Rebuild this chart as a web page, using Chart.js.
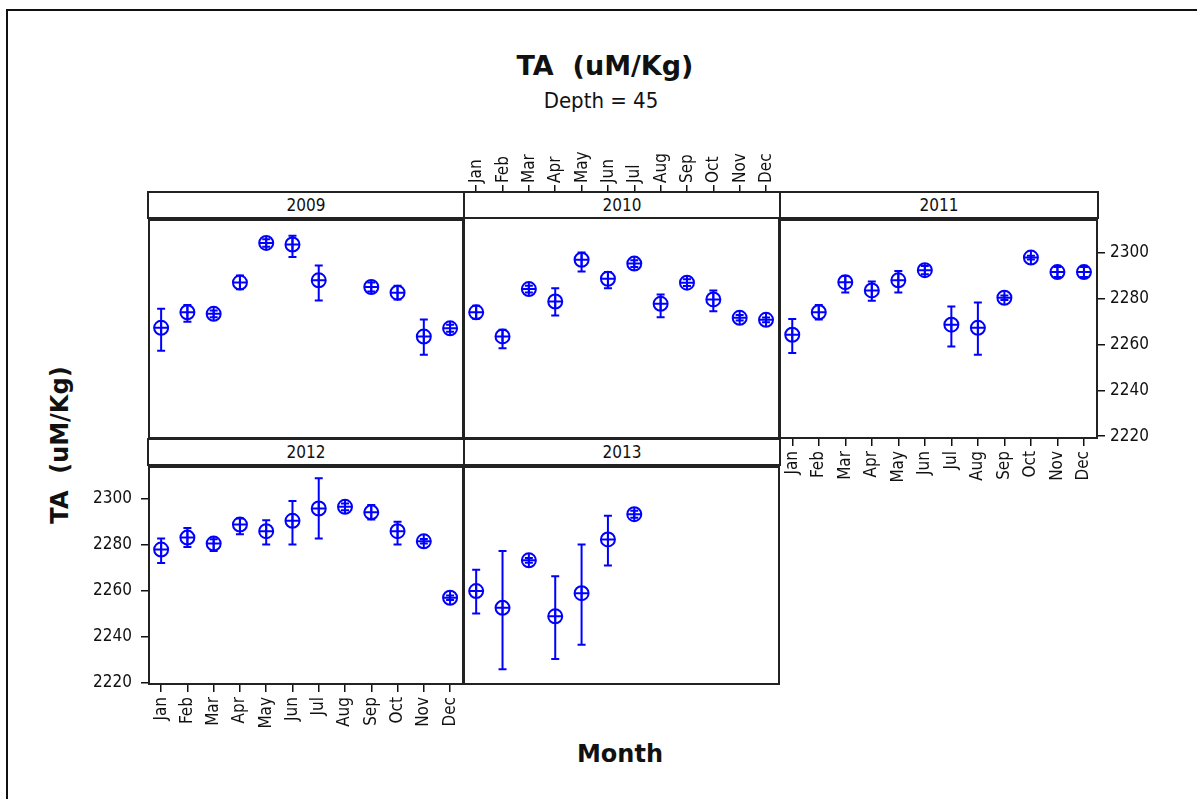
<!DOCTYPE html>
<html>
<head>
<meta charset="utf-8">
<script src="https://cdn.jsdelivr.net/npm/chart.js@4.4.0/dist/chart.umd.min.js"></script>
<style>
  body { margin:0; background:#fff; width:1197px; height:799px; overflow:hidden; position:relative;
         font-family:"DejaVu Sans Condensed","DejaVu Sans",sans-serif; color:#111; }
  .frame { position:absolute; left:6px; top:9px; width:1210px; height:810px; border:2px solid #111; box-sizing:border-box; }
  canvas { position:absolute; }
  .strip { position:absolute; height:28px; border:2px solid #222; box-sizing:border-box; background:#fff;
           text-align:center; font-size:17px; line-height:24px; z-index:5; }
  .txt { position:absolute; text-align:center; white-space:pre; }
</style>
</head>
<body>
<div class="frame"></div>
<div class="txt" style="left:405px;width:400px;top:50px;font-family:'DejaVu Sans';font-weight:bold;font-size:27px;">TA  (uM/Kg)</div>
<div class="txt" style="left:401px;width:400px;top:88px;font-size:22px;">Depth = 45</div>
<div class="txt" style="left:520px;width:200px;top:740px;font-family:'DejaVu Sans';font-weight:bold;font-size:24px;">Month</div>
<div class="txt" style="left:-40px;width:200px;top:431px;font-family:'DejaVu Sans';font-weight:bold;font-size:24px;transform:rotate(-90deg);">TA  (uM/Kg)</div>

<div class="strip" style="left:147px;top:191px;width:318px;">2009</div>
<div class="strip" style="left:463px;top:191px;width:318px;">2010</div>
<div class="strip" style="left:779px;top:191px;width:320px;">2011</div>
<div class="strip" style="left:147px;top:438px;width:318px;">2012</div>
<div class="strip" style="left:463px;top:438px;width:318px;">2013</div>

<canvas id="c2009"></canvas>
<canvas id="c2010"></canvas>
<canvas id="c2011"></canvas>
<canvas id="c2012"></canvas>
<canvas id="c2013"></canvas>

<script>
// month axis labels and y ticks
const months = ['Jan','Feb','Mar','Apr','May','Jun','Jul','Aug','Sep','Oct','Nov','Dec'];
const yTicks = [2220, 2240, 2260, 2280, 2300];

// mean and interval ends per year
const mean2009 = [2267.2, 2274.0, 2273.3, 2286.9, 2304.2, 2303.5, 2287.9, null, 2285.0, 2282.5, 2263.4, 2267.0];
const low2009  = [2257.2, 2269.9, 2271.8, 2284.0, 2302.5, 2298.1, 2279.1, null, 2283.0, 2279.5, 2255.5, 2265.5];
const high2009 = [2275.5, 2277.2, 2274.8, 2290.0, 2305.8, 2307.3, 2294.4, null, 2287.0, 2285.5, 2270.8, 2268.5];

const mean2010 = [2274.0, 2263.5, 2284.1, 2278.7, 2296.9, 2288.6, 2295.2, 2277.7, 2286.9, 2279.6, 2271.6, 2270.7];
const low2010  = [2271.2, 2258.3, 2282.6, 2272.6, 2291.8, 2284.5, 2293.7, 2271.8, 2285.4, 2274.4, 2270.4, 2269.7];
const high2010 = [2276.8, 2266.4, 2285.6, 2284.5, 2300.0, 2291.5, 2296.7, 2281.8, 2288.4, 2283.5, 2272.8, 2271.7];

const mean2011 = [2264.2, 2274.0, 2287.1, 2283.5, 2287.9, 2292.3, 2268.6, 2267.2, 2280.3, 2297.8, 2291.5, 2291.5];
const low2011  = [2256.2, 2270.8, 2282.6, 2279.0, 2282.6, 2290.5, 2259.1, 2255.5, 2279.3, 2297.0, 2289.3, 2289.3];
const high2011 = [2271.1, 2277.2, 2289.8, 2287.4, 2292.0, 2294.1, 2276.5, 2278.2, 2281.3, 2298.6, 2293.7, 2293.7];

const mean2012 = [2278.0, 2283.2, 2280.6, 2288.9, 2286.0, 2290.5, 2295.9, 2296.6, 2294.2, 2286.0, 2281.6, 2257.0];
const low2012  = [2272.1, 2279.1, 2277.4, 2284.7, 2280.2, 2280.2, 2282.8, 2295.1, 2291.1, 2280.2, 2280.6, 2256.0];
const high2012 = [2282.8, 2287.4, 2282.5, 2291.5, 2290.8, 2299.1, 2309.1, 2298.1, 2297.4, 2290.1, 2282.6, 2258.0];

const mean2013 = [2259.9, 2252.6, 2273.3, 2248.9, 2259.0, 2282.4, 2293.4, null, null, null, null, null];
const low2013  = [2250.2, 2225.9, 2272.3, 2230.3, 2236.5, 2271.1, 2291.9, null, null, null, null, null];
const high2013 = [2269.2, 2277.4, 2274.3, 2266.4, 2280.2, 2292.7, 2294.9, null, null, null, null, null];

Chart.defaults.font.family = '"DejaVu Sans Condensed", "DejaVu Sans", sans-serif';
Chart.defaults.font.size = 17;
Chart.defaults.color = '#111';

const blue = '#0000ff';

// 오차 막대 + 패널 테두리
const intervalPlugin = {
    id: 'intervals',
    afterDatasetsDraw(chart, args, opts) {
        const ctx = chart.ctx;
        const xs = chart.scales.x, ys = chart.scales.y;
        ctx.save();
        ctx.strokeStyle = blue;
        ctx.lineWidth = 2;
        opts.mean.forEach((m, i) => {
            if (m === null) return;
            const x = xs.getPixelForValue(i + 1);
            const yl = ys.getPixelForValue(opts.low[i]);
            const yh = ys.getPixelForValue(opts.high[i]);
            ctx.beginPath();
            ctx.moveTo(x, yl); ctx.lineTo(x, yh);
            ctx.moveTo(x - 4, yl); ctx.lineTo(x + 4, yl);
            ctx.moveTo(x - 4, yh); ctx.lineTo(x + 4, yh);
            ctx.stroke();
        });
        const a = chart.chartArea;
        ctx.strokeStyle = '#222';
        ctx.lineWidth = 2;
        ctx.strokeRect(a.left + 1, a.top + 1, a.right - a.left - 2, a.bottom - a.top - 2);
        ctx.restore();
    }
};

function makePanel(id, mean, low, high, cfg) {
    const cv = document.getElementById(id);
    cv.width = cfg.w; cv.height = cfg.h;
    cv.style.left = cfg.left + 'px'; cv.style.top = cfg.top + 'px';
    const pts = mean.map((v, i) => ({ x: i + 1, y: v }));

    new Chart(cv, {
        type: 'scatter',
        data: {
            datasets: [
                {
                    data: pts,
                    pointStyle: 'circle',
                    pointRadius: 7,
                    pointHoverRadius: 7,
                    borderWidth: 2,
                    borderColor: blue,
                    backgroundColor: 'rgba(0,0,0,0)'
                },
                {
                    data: pts,
                    pointStyle: 'cross',
                    pointRadius: 7,
                    pointHoverRadius: 7,
                    borderWidth: 2,
                    borderColor: blue,
                    backgroundColor: blue
                }
            ]
        },
        options: {
            responsive: false,
            animation: false,
            events: [],
            layout: { padding: 0, autoPadding: false },
            plugins: {
                legend: { display: false },
                tooltip: { enabled: false },
                intervals: { mean: mean, low: low, high: high }
            },
            scales: {
                x: {
                    type: 'linear',
                    display: !!cfg.xPos,
                    position: cfg.xPos || 'bottom',
                    min: 0.5,
                    max: 12.53,
                    afterBuildTicks: s => { s.ticks = months.map((m, i) => ({ value: i + 1 })); },
                    afterFit: s => { s.height = cfg.xSize || 0; s.paddingLeft = 0; s.paddingRight = 0; },
                    grid: { drawOnChartArea: false, drawTicks: true, tickLength: 7, color: '#111', lineWidth: 1.5 },
                    border: { display: false },
                    ticks: {
                        autoSkip: false,
                        maxRotation: 90,
                        minRotation: 90,
                        padding: cfg.xPos === 'bottom' ? 5 : 2,
                        labelOffset: cfg.labelOffset || 0,
                        callback: v => months[v - 1]
                    }
                },
                y: {
                    type: 'linear',
                    display: !!cfg.yPos,
                    position: cfg.yPos || 'left',
                    min: cfg.yMin,
                    max: cfg.yMax,
                    afterBuildTicks: s => { s.ticks = yTicks.map(v => ({ value: v })); },
                    afterFit: s => { s.width = cfg.ySize || 0; s.paddingTop = 0; s.paddingBottom = 0; },
                    grid: { drawOnChartArea: false, drawTicks: true, tickLength: 7, color: '#111', lineWidth: 1.5 },
                    border: { display: false },
                    ticks: { padding: cfg.yPos === 'left' ? 9 : 5, callback: v => String(v) }
                }
            }
        },
        plugins: [intervalPlugin]
    });
}

makePanel('c2009', mean2009, low2009, high2009,
    { left: 148, top: 219, w: 316, h: 220, yMin: 2218.8, yMax: 2314.6 });
makePanel('c2010', mean2010, low2010, high2010,
    { left: 463, top: 140, w: 317, h: 299, xPos: 'top', xSize: 52, labelOffset: 21, yMin: 2218.8, yMax: 2326.4 });
makePanel('c2011', mean2011, low2011, high2011,
    { left: 779, top: 219, w: 381, h: 280, xPos: 'bottom', xSize: 60, yPos: 'right', ySize: 62, yMin: 2218.8, yMax: 2314.6 });
makePanel('c2012', mean2012, low2012, high2012,
    { left: 88, top: 466, w: 376, h: 280, xPos: 'bottom', xSize: 61, yPos: 'left', ySize: 60, yMin: 2219.0, yMax: 2314.4 });
makePanel('c2013', mean2013, low2013, high2013,
    { left: 463, top: 466, w: 317, h: 219, yMin: 2219.0, yMax: 2314.4 });
</script>
</body>
</html>
